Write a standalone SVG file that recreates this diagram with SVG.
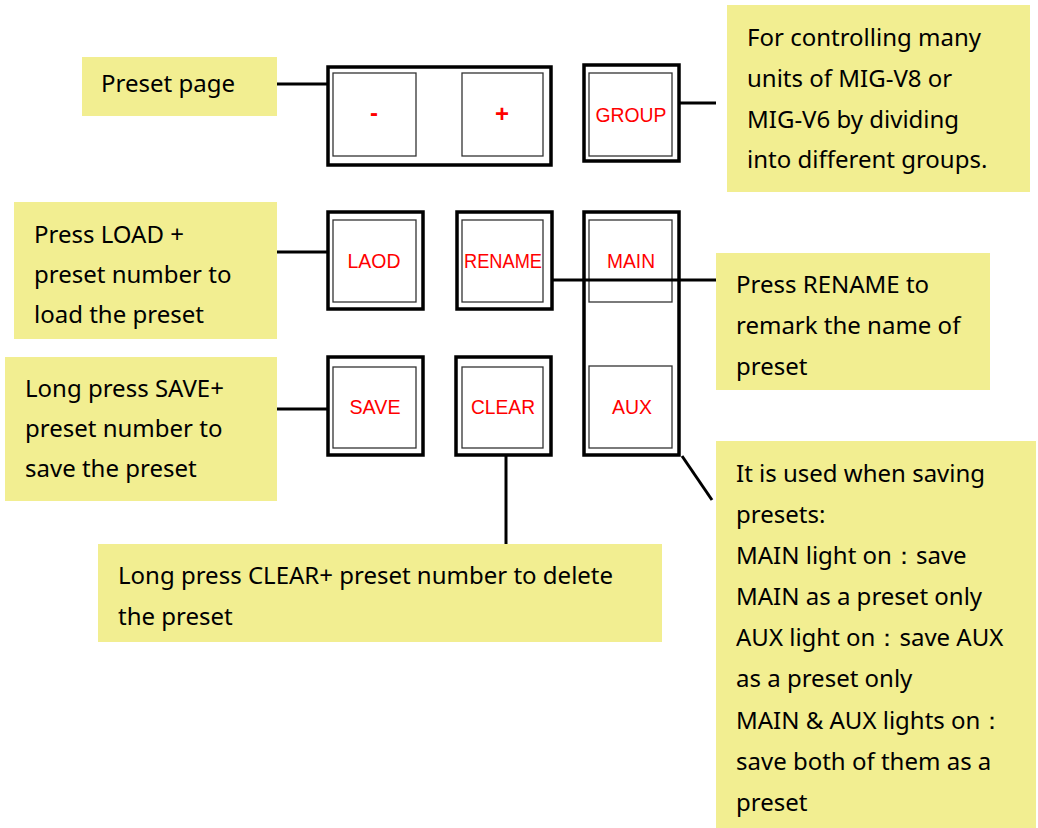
<svg xmlns="http://www.w3.org/2000/svg" width="1038" height="828" viewBox="0 0 1038 828">
<style>
.note{fill:#F2EE91;}
.t{font-family:"Noto Sans","Open Sans",sans-serif;font-size:24px;fill:#000;}
.outer{fill:#fff;stroke:#000;stroke-width:3.5;}
.inner{fill:#fff;stroke:#333;stroke-width:1.3;}
.lbl{font-family:"Liberation Sans",Arial,sans-serif;font-size:21px;fill:#ff0000;text-anchor:middle;}
.conn{stroke:#000;stroke-width:3;fill:none;}
</style>
<rect width="1038" height="828" fill="#fff"/>
<g id="connectors">
<line class="conn" x1="277" y1="84" x2="328" y2="84"/>
<line class="conn" x1="680" y1="103" x2="716" y2="103"/>
<line class="conn" x1="277" y1="252" x2="328" y2="252"/>
<line class="conn" x1="277" y1="409" x2="328" y2="409"/>
<line class="conn" x1="506" y1="456" x2="506" y2="545"/>
<line class="conn" x1="682" y1="456" x2="712" y2="500"/>
</g>
<g id="preset-page-buttons">
<rect class="outer" x="328" y="67" width="223" height="98"/>
<rect class="inner" x="333" y="73" width="83" height="83"/>
<rect class="inner" x="462" y="73" width="81" height="83"/>
<text class="lbl" x="374" y="121" style="font-size:24px;font-weight:bold">-</text>
<text class="lbl" x="502" y="122" style="font-size:24px;font-weight:bold">+</text>
</g>
<g id="group-button">
<rect class="outer" x="584" y="65" width="95" height="96"/>
<rect class="inner" x="589" y="73" width="83" height="83"/>
<text class="lbl" x="631" y="122" textLength="71" lengthAdjust="spacingAndGlyphs">GROUP</text>
</g>
<g id="load-button">
<rect class="outer" x="328" y="212" width="95" height="97"/>
<rect class="inner" x="333" y="220" width="83" height="82"/>
<text class="lbl" x="374" y="268" textLength="53" lengthAdjust="spacingAndGlyphs">LAOD</text>
</g>
<g id="rename-button">
<rect class="outer" x="457" y="212" width="95" height="97"/>
<rect class="inner" x="462" y="220" width="81" height="82"/>
<text class="lbl" x="503" y="268" textLength="78" lengthAdjust="spacingAndGlyphs">RENAME</text>
</g>
<g id="main-aux-buttons">
<rect class="outer" x="584" y="212" width="95" height="243"/>
<rect class="inner" x="589" y="220" width="83" height="82"/>
<rect class="inner" x="589" y="366" width="83" height="82"/>
<text class="lbl" x="631" y="268" textLength="48" lengthAdjust="spacingAndGlyphs">MAIN</text>
<text class="lbl" x="632" y="414" textLength="40" lengthAdjust="spacingAndGlyphs">AUX</text>
</g>
<line class="conn" x1="553" y1="280" x2="716" y2="280"/>
<g id="save-button">
<rect class="outer" x="328" y="357" width="95" height="98"/>
<rect class="inner" x="333" y="367" width="83" height="81"/>
<text class="lbl" x="375" y="414" textLength="51" lengthAdjust="spacingAndGlyphs">SAVE</text>
</g>
<g id="clear-button">
<rect class="outer" x="456" y="357" width="95" height="98"/>
<rect class="inner" x="462" y="367" width="81" height="81"/>
<text class="lbl" x="503" y="414" textLength="64" lengthAdjust="spacingAndGlyphs">CLEAR</text>
</g>
<g id="note-preset-page">
<rect class="note" x="82" y="57" width="195" height="59"/>
<text class="t" x="101" y="92">Preset page</text>
</g>
<g id="note-group">
<rect class="note" x="727" y="5" width="303" height="187"/>
<text class="t" x="747" y="46">For controlling many</text>
<text class="t" x="747" y="87">units of MIG-V8 or</text>
<text class="t" x="747" y="128">MIG-V6 by dividing</text>
<text class="t" x="747" y="168">into different groups.</text>
</g>
<g id="note-load">
<rect class="note" x="14" y="202" width="263" height="137"/>
<text class="t" x="34" y="243">Press LOAD +</text>
<text class="t" x="34" y="283">preset number to</text>
<text class="t" x="34" y="323">load the preset</text>
</g>
<g id="note-rename">
<rect class="note" x="716" y="253" width="274" height="137"/>
<text class="t" x="736" y="293">Press RENAME to</text>
<text class="t" x="736" y="334">remark the name of</text>
<text class="t" x="736" y="375">preset</text>
</g>
<g id="note-save">
<rect class="note" x="5" y="357" width="272" height="144"/>
<text class="t" x="25" y="397">Long press SAVE+</text>
<text class="t" x="25" y="437">preset number to</text>
<text class="t" x="25" y="477">save the preset</text>
</g>
<g id="note-clear">
<rect class="note" x="98" y="544" width="564" height="98"/>
<text class="t" x="118" y="584">Long press CLEAR+ preset number to delete</text>
<text class="t" x="118" y="625">the preset</text>
</g>
<g id="note-main-aux">
<rect class="note" x="716" y="441" width="320" height="387"/>
<text class="t" x="736" y="482">It is used when saving</text>
<text class="t" x="736" y="523">presets:</text>
<text class="t" x="736" y="564">MAIN light on：save</text>
<text class="t" x="736" y="605">MAIN as a preset only</text>
<text class="t" x="736" y="646">AUX light on：save AUX</text>
<text class="t" x="736" y="687">as a preset only</text>
<text class="t" x="736" y="729">MAIN &amp; AUX lights on：</text>
<text class="t" x="736" y="770">save both of them as a</text>
<text class="t" x="736" y="811">preset</text>
</g>
</svg>
